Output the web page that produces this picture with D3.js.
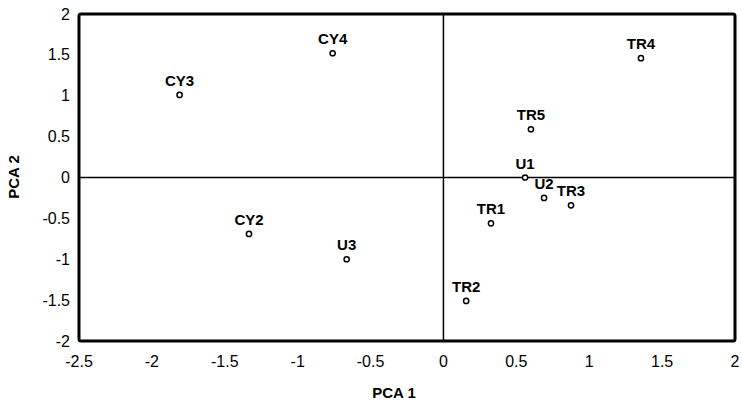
<!DOCTYPE html>
<html>
<head>
<meta charset="utf-8">
<script src="https://cdn.jsdelivr.net/npm/d3@7"></script>
<style>
  body { margin: 0; background: #fff; }
  text { font-family: "Liberation Sans", Arial, sans-serif; fill: #000; }
</style>
</head>
<body>
<svg id="chart" width="742" height="404"></svg>
<script>
// Datos
const labels = ['CY3', 'CY4', 'TR4', 'TR5', 'U1', 'U2', 'TR3', 'TR1', 'TR2', 'CY2', 'U3'];
const pca1 = [-1.81, -0.76, 1.355, 0.60, 0.56, 0.69, 0.875, 0.326, 0.156, -1.334, -0.664];
const pca2 = [1.01, 1.52, 1.46, 0.59, 0.0, -0.25, -0.34, -0.56, -1.51, -0.69, -1.0];
const xTicks = [-2.5, -2, -1.5, -1, -0.5, 0, 0.5, 1, 1.5, 2];
const yTicks = [2, 1.5, 1, 0.5, 0, -0.5, -1, -1.5, -2];

const svg = d3.select('#chart');
const margin = { left: 79, top: 14, right: 7, bottom: 63 };
const width = 742 - margin.left - margin.right;
const height = 404 - margin.top - margin.bottom;

const x = d3.scaleLinear().domain([-2.5, 2]).range([0, width]);
const y = d3.scaleLinear().domain([-2, 2]).range([height, 0]);

const g = svg.append('g').attr('transform', `translate(${margin.left},${margin.top})`);

// Líneas de cero
g.append('line')
  .attr('x1', x(0)).attr('x2', x(0))
  .attr('y1', 0).attr('y2', height)
  .attr('stroke', '#000').attr('stroke-width', 1.5);
g.append('line')
  .attr('x1', 0).attr('x2', width)
  .attr('y1', y(0)).attr('y2', y(0))
  .attr('stroke', '#000').attr('stroke-width', 1.5);

// Marco
g.append('rect')
  .attr('width', width).attr('height', height)
  .attr('rx', 2)
  .attr('fill', 'none').attr('stroke', '#000').attr('stroke-width', 3);

// Etiquetas de ejes
g.selectAll('.xt').data(xTicks).enter().append('text')
  .attr('x', d => x(d)).attr('y', height + 26)
  .attr('text-anchor', 'middle')
  .style('font-size', '16px')
  .text(d => d);

g.selectAll('.yt').data(yTicks).enter().append('text')
  .attr('x', -9).attr('y', d => y(d) + 5.5)
  .attr('text-anchor', 'end')
  .style('font-size', '16px')
  .text(d => d);

// Títulos
svg.append('text')
  .attr('x', 394).attr('y', 398)
  .attr('text-anchor', 'middle')
  .style('font-size', '15px').style('font-weight', 'bold')
  .text('PCA 1');

svg.append('text')
  .attr('transform', 'translate(19,177) rotate(-90)')
  .attr('text-anchor', 'middle')
  .style('font-size', '15px').style('font-weight', 'bold')
  .text('PCA 2');

// Puntos
const idx = d3.range(labels.length);
g.selectAll('.pt').data(idx).enter().append('circle')
  .attr('cx', i => x(pca1[i])).attr('cy', i => y(pca2[i]))
  .attr('r', 2.6)
  .attr('fill', '#fff').attr('stroke', '#000').attr('stroke-width', 1.5);

g.selectAll('.lb').data(idx).enter().append('text')
  .attr('x', i => x(pca1[i])).attr('y', i => y(pca2[i]) - 9)
  .attr('text-anchor', 'middle')
  .style('font-size', '15px').style('font-weight', 'bold')
  .text(i => labels[i]);
</script>
</body>
</html>
